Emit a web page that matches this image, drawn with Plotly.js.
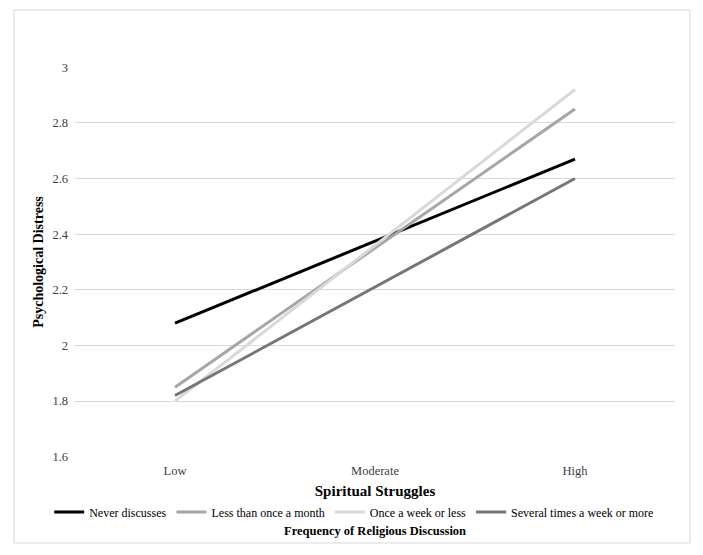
<!DOCTYPE html>
<html>
<head>
<meta charset="utf-8">
<script src="https://cdn.plot.ly/plotly-3.0.1.min.js"></script>
<style>
  body { margin: 0; background: #fff; }
  #plot { width: 703px; height: 555px; }
</style>
</head>
<body>
<div id="plot"></div>
<script>
// x categories
let struggles = ['Low', 'Moderate', 'High'];

// series
let neverDiscusses = [2.08, 2.375, 2.67];
let lessThanMonth = [1.85, 2.35, 2.85];
let onceAWeek = [1.80, 2.36, 2.92];
let severalTimes = [1.82, 2.21, 2.60];

let seriesNames = ['Never discusses', 'Less than once a month', 'Once a week or less', 'Several times a week or more'];
let seriesValues = [neverDiscusses, lessThanMonth, onceAWeek, severalTimes];
let seriesColors = ['#000000', '#a6a6a6', '#d9d9d9', '#767676'];

let serif = 'Liberation Serif, Times New Roman, serif';

let data = seriesNames.map((name, i) => ({
    x: struggles,
    y: seriesValues[i],
    name: name,
    type: 'scatter',
    mode: 'lines',
    line: { color: seriesColors[i], width: 3 }
}));

let layout = {
    width: 703,
    height: 555,
    margin: { l: 75, r: 28, t: 67, b: 98, autoexpand: false },
    paper_bgcolor: '#ffffff',
    plot_bgcolor: '#ffffff',
    font: { family: serif, size: 12, color: '#404040' },
    showlegend: true,
    // left of the plot area so the legend may use the full width and stay on one row
    legend: {
        orientation: 'h',
        x: -0.043,
        xanchor: 'left',
        y: -0.141,
        yanchor: 'middle',
        font: { family: serif, size: 12, color: '#000000' },
        itemwidth: 30,
        tracegroupgap: 0,
        traceorder: 'normal'
    },
    xaxis: {
        type: 'category',
        range: [-0.5, 2.5],
        showgrid: false,
        zeroline: false,
        showline: false,
        ticks: '',
        ticklabelstandoff: 4,
        tickfont: { family: serif, size: 12.5, color: '#404040' },
        title: {
            text: '<b>Spiritual Struggles</b>',
            font: { family: serif, size: 15, color: '#000000' },
            standoff: 8
        }
    },
    yaxis: {
        range: [1.599, 3.001],
        dtick: 0.2,
        tick0: 1.6,
        showgrid: true,
        gridcolor: '#d9d9d9',
        gridwidth: 1,
        zeroline: false,
        showline: false,
        ticks: '',
        ticklabelstandoff: 6,
        tickfont: { family: serif, size: 12.5, color: '#404040' },
        title: {
            text: '<b>Psychological Distress</b>',
            font: { family: serif, size: 14, color: '#000000' },
            standoff: 5
        }
    },
    annotations: [{
        text: '<b>Frequency of Religious Discussion</b>',
        xref: 'paper',
        yref: 'paper',
        x: 0.5,
        y: -0.19,
        xanchor: 'center',
        yanchor: 'middle',
        showarrow: false,
        font: { family: serif, size: 12.5, color: '#000000' }
    }],
    shapes: [{
        type: 'rect',
        xref: 'paper',
        yref: 'paper',
        x0: -0.1017,
        x1: 1.025,
        y0: -0.2205,
        y1: 1.146,
        line: { color: '#d9d9d9', width: 1 },
        layer: 'below'
    }]
};

Plotly.newPlot('plot', data, layout, { displayModeBar: false });
</script>
</body>
</html>
